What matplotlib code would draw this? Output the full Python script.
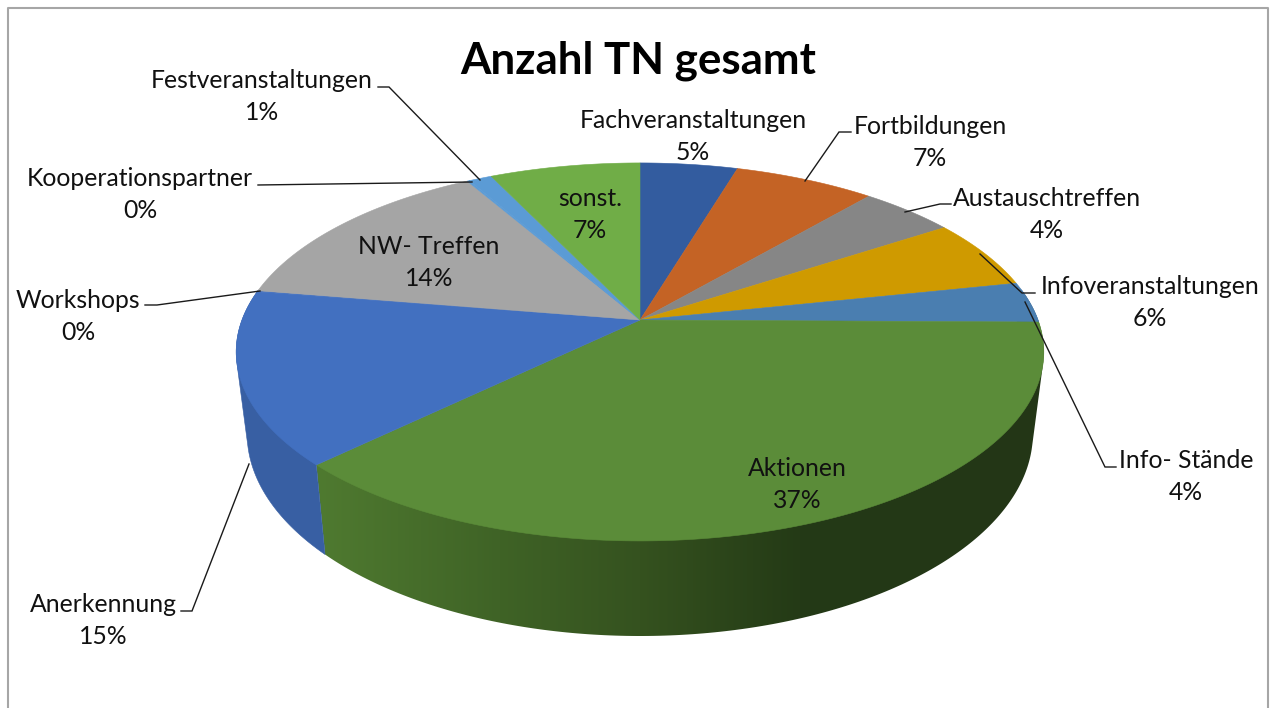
import numpy as np
import matplotlib
matplotlib.use('Agg')
import matplotlib.pyplot as plt
from matplotlib.colors import to_rgb
from matplotlib.patches import Polygon

categories = ['Fachveranstaltungen', 'Fortbildungen', 'Austauschtreffen', 'Infoveranstaltungen',
              'Info- Stände', 'Aktionen', 'Anerkennung', 'Workshops', 'NW- Treffen',
              'Kooperationspartner', 'Festveranstaltungen', 'sonst.']
shares = [4.6, 6.65, 4.5, 5.95, 3.5, 37.6, 14.8, 0.1, 14.1, 0.1, 1.1, 7.1]
pct_labels = ['5%', '7%', '4%', '6%', '4%', '37%', '15%', '0%', '14%', '0%', '1%', '7%']
colors = ['#335c9f', '#c46325', '#868686', '#cf9a00', '#4a7eb0', '#5b8c39',
          '#4270c0', '#4270c0', '#a5a5a5', '#5b9bd5', '#5b9bd5', '#70ad47']

# label centres (first line), pixels
label_pos = [(693, 120), (930, 127), (1047, 199), (1150, 287), (1186, 460), (797, 468),
             (103, 605), (78, 300), (429, 246), (140, 179), (262, 81), (590, 198)]
leaders = [
    [(805, 181), (839, 132), (851, 132)],
    [(905, 212), (940, 204), (951, 204)],
    [(980, 254), (1022, 293), (1035, 293)],
    [(1025, 302), (1105, 467), (1116, 467)],
    [(249, 464), (192, 611), (181, 611)],
    [(260, 291), (157, 305), (145, 305)],
    [(472, 182), (258, 185)],
    [(480, 180), (389, 87), (378, 87)],
]

CX, CY = 640, 320
RX, RY = 398, 183.6
PERSP = 0.169
DEPTH = 79
BOTTOM_SCALE = 0.973


def project(theta, drop=0, scale=1.0):
    # theta clockwise from 12 o'clock, circle seen in perspective
    u, v = np.sin(theta), -np.cos(theta)
    w = 1 - PERSP * v
    return CX + scale * RX * u / w, CY + (RY * v + drop) / w


def hull(points):
    # monotone chain, gives the wall its tangent outline
    pts = sorted(set(map(tuple, points)))

    def half(seq):
        out = []
        for p in seq:
            while len(out) > 1 and ((out[-1][0] - out[-2][0]) * (p[1] - out[-2][1])
                                    - (out[-1][1] - out[-2][1]) * (p[0] - out[-2][0])) <= 0:
                out.pop()
            out.append(p)
        return out[:-1]

    return np.array(half(pts) + half(pts[::-1]))


fig = plt.figure(figsize=(12.72, 7.08), dpi=100)
ax = fig.add_axes([0, 0, 1, 1])

ax.plot([8, 8, 1268, 1268], [708, 8, 8, 708], color='#a6a6a6', lw=1.5)

edges = np.concatenate([[0], np.cumsum(shares)]) / np.sum(shares) * 2 * np.pi
vis_start = np.arccos(PERSP)
vis_end = 2 * np.pi - vis_start

# side wall, only the part facing the viewer
for i in range(len(shares)):
    t0, t1 = max(edges[i], vis_start), min(edges[i + 1], vis_end)
    if t1 <= t0:
        continue
    t = np.linspace(t0, t1, 200)
    xa, ya = project(t)
    xb, yb = project(t, DEPTH, BOTTOM_SCALE)
    pts = hull(np.column_stack([np.r_[xa, xb], np.r_[ya, yb]]))
    if categories[i] == 'Aktionen':
        wall = Polygon(pts, closed=True, facecolor='none', edgecolor='none')
        ax.add_patch(wall)
        stops = [318, 500, 640, 800, 1040]
        rgb = np.array([to_rgb(c) for c in ['#4f7a30', '#3f6326', '#35521f', '#243a16', '#233616']])
        grid = np.linspace(300, 1060, 760)
        grad = np.column_stack([np.interp(grid, stops, rgb[:, k]) for k in range(3)])[np.newaxis, :, :]
        im = ax.imshow(grad, extent=(300, 1060, 660, 300), aspect='auto', zorder=1)
        im.set_clip_path(wall)
    else:
        side = tuple(np.array(to_rgb(colors[i])) * 0.85)
        ax.add_patch(Polygon(pts, closed=True, facecolor=side, edgecolor=side, lw=0.4, zorder=1))

# top face
for i in range(len(shares)):
    t = np.linspace(edges[i], edges[i + 1], 200)
    xs, ys = project(t)
    pts = np.column_stack([np.r_[CX, xs], np.r_[CY, ys]])
    ax.add_patch(Polygon(pts, closed=True, facecolor=colors[i], edgecolor=colors[i], lw=0.4, zorder=2))

for line in leaders:
    xs, ys = zip(*line)
    ax.plot(xs, ys, color='#1a1a1a', lw=1.0, solid_joinstyle='miter', zorder=3)

for name, pct, (x, y) in zip(categories, pct_labels, label_pos):
    ax.text(x, y, name, ha='center', va='center', fontsize=17.8, family='Lato', color='#111111', zorder=4)
    ax.text(x, y + 32, pct, ha='center', va='center', fontsize=17.8, family='Lato', color='#111111', zorder=4)

ax.text(638, 61, 'Anzahl TN gesamt', ha='center', va='center', fontsize=31.6, family='Lato',
        fontweight='bold', color='black', zorder=4)

ax.set_xlim(0, 1272)
ax.set_ylim(708, 0)
ax.axis('off')

fig.savefig('out.png', dpi=100)
